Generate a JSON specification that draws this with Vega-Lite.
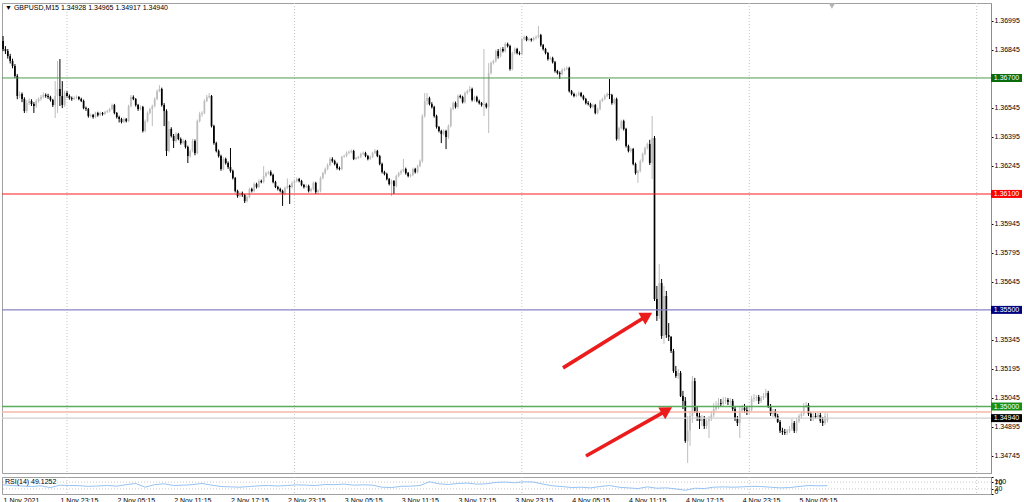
{
"$schema":"https://vega.github.io/schema/vega-lite/v6.json",
"padding":{"left":0,"top":2,"right":0,"bottom":0},
"background":"#ffffff",
"spacing":2,
"config":{"view":{"stroke":"#a0a0a0","strokeWidth":1},"font":"Liberation Sans","axis":{"labelFont":"Liberation Sans","labelFontSize":7,"labelColor":"#000000","domainColor":"#8c8c8c","tickColor":"#000000","grid":false},"text":{"font":"Liberation Sans"}},
"datasets":{
"grid":[{"i":27},{"i":123},{"i":219},{"i":315},{"i":411}],
"levels":[{"price":1.367,"kind":"a1367","label":"1.36700"},{"price":1.361,"kind":"b1361","label":"1.36100"},{"price":1.355,"kind":"c1355","label":"1.35500"},{"price":1.35,"kind":"d1350","label":"1.35000"},{"price":1.3494,"kind":"e_bid","label":"1.34940"},{"price":1.34972,"kind":"f_ask","label":""}],
"arrows":[{"x1":236.37,"p1":1.352,"x2":271.83,"p2":1.3547},{"x1":246.08,"p1":1.34744,"x2":280.23,"p2":1.3498}],
"rsi":[{"i":0,"v":54},{"i":4,"v":50},{"i":8,"v":47},{"i":12,"v":44},{"i":16,"v":48},{"i":20,"v":38},{"i":24,"v":52},{"i":28,"v":50},{"i":32,"v":49},{"i":36,"v":45},{"i":40,"v":47},{"i":44,"v":50},{"i":48,"v":46},{"i":52,"v":55},{"i":56,"v":62},{"i":60,"v":40},{"i":64,"v":55},{"i":68,"v":60},{"i":72,"v":50},{"i":76,"v":52},{"i":80,"v":55},{"i":84,"v":62},{"i":88,"v":52},{"i":92,"v":44},{"i":96,"v":42},{"i":100,"v":40},{"i":104,"v":44},{"i":108,"v":48},{"i":112,"v":50},{"i":116,"v":47},{"i":120,"v":50},{"i":124,"v":54},{"i":128,"v":52},{"i":132,"v":50},{"i":136,"v":56},{"i":140,"v":55},{"i":144,"v":58},{"i":148,"v":52},{"i":152,"v":54},{"i":156,"v":52},{"i":160,"v":40},{"i":164,"v":38},{"i":168,"v":45},{"i":172,"v":46},{"i":176,"v":50},{"i":180,"v":72},{"i":184,"v":60},{"i":188,"v":56},{"i":192,"v":62},{"i":196,"v":64},{"i":200,"v":58},{"i":204,"v":60},{"i":208,"v":68},{"i":212,"v":70},{"i":216,"v":66},{"i":220,"v":72},{"i":224,"v":70},{"i":228,"v":58},{"i":232,"v":48},{"i":236,"v":44},{"i":240,"v":38},{"i":244,"v":40},{"i":248,"v":36},{"i":252,"v":44},{"i":256,"v":50},{"i":260,"v":40},{"i":264,"v":36},{"i":268,"v":32},{"i":272,"v":42},{"i":276,"v":34},{"i":280,"v":36},{"i":284,"v":30},{"i":288,"v":22},{"i":292,"v":34},{"i":296,"v":32},{"i":300,"v":40},{"i":304,"v":42},{"i":308,"v":40},{"i":312,"v":42},{"i":316,"v":45},{"i":320,"v":44},{"i":324,"v":40},{"i":328,"v":36},{"i":332,"v":38},{"i":336,"v":44},{"i":340,"v":50},{"i":344,"v":48},{"i":348,"v":49}],
"bars":[
{"i":0,"o":1.36891,"h":1.36917,"l":1.36839,"c":1.3685},
{"i":1,"o":1.3685,"h":1.36865,"l":1.36824,"c":1.36839},
{"i":2,"o":1.36839,"h":1.3685,"l":1.368,"c":1.36813},
{"i":3,"o":1.36813,"h":1.36825,"l":1.36775,"c":1.36788},
{"i":4,"o":1.36788,"h":1.368,"l":1.3675,"c":1.36762},
{"i":5,"o":1.36762,"h":1.36772,"l":1.367,"c":1.3671},
{"i":6,"o":1.3671,"h":1.3672,"l":1.3659,"c":1.36607},
{"i":7,"o":1.36607,"h":1.3663,"l":1.36595,"c":1.36617},
{"i":8,"o":1.36617,"h":1.36625,"l":1.36575,"c":1.36591},
{"i":9,"o":1.36591,"h":1.366,"l":1.36519,"c":1.36529},
{"i":10,"o":1.36529,"h":1.36585,"l":1.3652,"c":1.3657},
{"i":11,"o":1.3657,"h":1.36595,"l":1.3656,"c":1.36581},
{"i":12,"o":1.36581,"h":1.3659,"l":1.36555,"c":1.36565},
{"i":13,"o":1.36565,"h":1.36575,"l":1.36519,"c":1.36555},
{"i":14,"o":1.36555,"h":1.36592,"l":1.36545,"c":1.36581},
{"i":15,"o":1.36581,"h":1.366,"l":1.36572,"c":1.36591},
{"i":16,"o":1.36591,"h":1.36612,"l":1.36582,"c":1.36601},
{"i":17,"o":1.36601,"h":1.36625,"l":1.36595,"c":1.36612},
{"i":18,"o":1.36612,"h":1.3662,"l":1.36598,"c":1.36607},
{"i":19,"o":1.36607,"h":1.36618,"l":1.36592,"c":1.36601},
{"i":20,"o":1.36601,"h":1.36608,"l":1.36578,"c":1.36586},
{"i":21,"o":1.36586,"h":1.36592,"l":1.3655,"c":1.3656},
{"i":22,"o":1.3656,"h":1.36684,"l":1.36493,"c":1.36607},
{"i":23,"o":1.36607,"h":1.36788,"l":1.36519,"c":1.36643},
{"i":24,"o":1.36643,"h":1.36798,"l":1.36555,"c":1.36607},
{"i":25,"o":1.36607,"h":1.36684,"l":1.36544,"c":1.3656},
{"i":26,"o":1.3656,"h":1.36635,"l":1.3655,"c":1.36622},
{"i":27,"o":1.36622,"h":1.36632,"l":1.36598,"c":1.36607},
{"i":28,"o":1.36607,"h":1.36615,"l":1.36588,"c":1.36596},
{"i":29,"o":1.36596,"h":1.36604,"l":1.36582,"c":1.36591},
{"i":30,"o":1.36591,"h":1.36605,"l":1.36585,"c":1.36596},
{"i":31,"o":1.36596,"h":1.3661,"l":1.3659,"c":1.36601},
{"i":32,"o":1.36601,"h":1.36606,"l":1.36585,"c":1.36591},
{"i":33,"o":1.36591,"h":1.36598,"l":1.36575,"c":1.36581},
{"i":34,"o":1.36581,"h":1.36588,"l":1.36538,"c":1.36544},
{"i":35,"o":1.36544,"h":1.36552,"l":1.3653,"c":1.36539},
{"i":36,"o":1.36539,"h":1.36545,"l":1.36495,"c":1.36503},
{"i":37,"o":1.36503,"h":1.36515,"l":1.36496,"c":1.36508},
{"i":38,"o":1.36508,"h":1.36514,"l":1.3649,"c":1.36498},
{"i":39,"o":1.36498,"h":1.36525,"l":1.36492,"c":1.36519},
{"i":40,"o":1.36519,"h":1.36525,"l":1.365,"c":1.36508},
{"i":41,"o":1.36508,"h":1.36526,"l":1.36502,"c":1.36519},
{"i":42,"o":1.36519,"h":1.36524,"l":1.36505,"c":1.36513},
{"i":43,"o":1.36513,"h":1.3653,"l":1.36508,"c":1.36524},
{"i":44,"o":1.36524,"h":1.36535,"l":1.36518,"c":1.36529},
{"i":45,"o":1.36529,"h":1.36545,"l":1.36522,"c":1.36539},
{"i":46,"o":1.36539,"h":1.36568,"l":1.36534,"c":1.3656},
{"i":47,"o":1.3656,"h":1.36566,"l":1.36512,"c":1.36519},
{"i":48,"o":1.36519,"h":1.36524,"l":1.3649,"c":1.36498},
{"i":49,"o":1.36498,"h":1.36505,"l":1.3647,"c":1.36488},
{"i":50,"o":1.36488,"h":1.36494,"l":1.36465,"c":1.36472},
{"i":51,"o":1.36472,"h":1.36495,"l":1.36468,"c":1.36488},
{"i":52,"o":1.36488,"h":1.36493,"l":1.3647,"c":1.36477},
{"i":53,"o":1.36477,"h":1.36562,"l":1.36472,"c":1.36555},
{"i":54,"o":1.36555,"h":1.36612,"l":1.36548,"c":1.36601},
{"i":55,"o":1.36601,"h":1.3661,"l":1.36585,"c":1.36591},
{"i":56,"o":1.36591,"h":1.36596,"l":1.36552,"c":1.3656},
{"i":57,"o":1.3656,"h":1.36566,"l":1.3653,"c":1.36539},
{"i":58,"o":1.36539,"h":1.36558,"l":1.36532,"c":1.3655},
{"i":59,"o":1.3655,"h":1.36556,"l":1.36418,"c":1.36426},
{"i":60,"o":1.36426,"h":1.36485,"l":1.3642,"c":1.36477},
{"i":61,"o":1.36477,"h":1.36527,"l":1.3647,"c":1.36519},
{"i":62,"o":1.36519,"h":1.36546,"l":1.36512,"c":1.36539},
{"i":63,"o":1.36539,"h":1.36562,"l":1.36451,"c":1.36555},
{"i":64,"o":1.36555,"h":1.366,"l":1.36548,"c":1.36591},
{"i":65,"o":1.36591,"h":1.3664,"l":1.36585,"c":1.36632},
{"i":66,"o":1.36632,"h":1.36663,"l":1.36626,"c":1.36643},
{"i":67,"o":1.36643,"h":1.3665,"l":1.36552,"c":1.3656},
{"i":68,"o":1.3656,"h":1.3657,"l":1.36451,"c":1.36529},
{"i":69,"o":1.36529,"h":1.36538,"l":1.36296,"c":1.36322},
{"i":70,"o":1.36322,"h":1.36477,"l":1.36315,"c":1.36436},
{"i":71,"o":1.36436,"h":1.36445,"l":1.36392,"c":1.364},
{"i":72,"o":1.364,"h":1.3641,"l":1.36338,"c":1.36374},
{"i":73,"o":1.36374,"h":1.3642,"l":1.36366,"c":1.3641},
{"i":74,"o":1.3641,"h":1.36416,"l":1.36378,"c":1.36384},
{"i":75,"o":1.36384,"h":1.36392,"l":1.36355,"c":1.36363},
{"i":76,"o":1.36363,"h":1.36385,"l":1.36356,"c":1.36374},
{"i":77,"o":1.36374,"h":1.3638,"l":1.36335,"c":1.36343},
{"i":78,"o":1.36343,"h":1.3635,"l":1.3626,"c":1.36296},
{"i":79,"o":1.36296,"h":1.3633,"l":1.36288,"c":1.36322},
{"i":80,"o":1.36322,"h":1.36385,"l":1.36315,"c":1.36374},
{"i":81,"o":1.36374,"h":1.36382,"l":1.363,"c":1.36312},
{"i":82,"o":1.36312,"h":1.36485,"l":1.36305,"c":1.36477},
{"i":83,"o":1.36477,"h":1.36525,"l":1.3647,"c":1.36513},
{"i":84,"o":1.36513,"h":1.36528,"l":1.365,"c":1.36519},
{"i":85,"o":1.36519,"h":1.3659,"l":1.36512,"c":1.36581},
{"i":86,"o":1.36581,"h":1.36612,"l":1.36575,"c":1.36601},
{"i":87,"o":1.36601,"h":1.36622,"l":1.36594,"c":1.36607},
{"i":88,"o":1.36607,"h":1.36612,"l":1.36444,"c":1.36451},
{"i":89,"o":1.36451,"h":1.36458,"l":1.36355,"c":1.36363},
{"i":90,"o":1.36363,"h":1.3637,"l":1.36315,"c":1.36322},
{"i":91,"o":1.36322,"h":1.3633,"l":1.36288,"c":1.36296},
{"i":92,"o":1.36296,"h":1.36303,"l":1.3622,"c":1.36229},
{"i":93,"o":1.36229,"h":1.3629,"l":1.36222,"c":1.36281},
{"i":94,"o":1.36281,"h":1.36288,"l":1.36252,"c":1.3626},
{"i":95,"o":1.3626,"h":1.36268,"l":1.3623,"c":1.36239},
{"i":96,"o":1.36239,"h":1.36338,"l":1.3621,"c":1.36219},
{"i":97,"o":1.36219,"h":1.36226,"l":1.36175,"c":1.36182},
{"i":98,"o":1.36182,"h":1.36188,"l":1.36108,"c":1.36115},
{"i":99,"o":1.36115,"h":1.36122,"l":1.3608,"c":1.36089},
{"i":100,"o":1.36089,"h":1.36112,"l":1.36082,"c":1.36105},
{"i":101,"o":1.36105,"h":1.36112,"l":1.36085,"c":1.36094},
{"i":102,"o":1.36094,"h":1.361,"l":1.36053,"c":1.36063},
{"i":103,"o":1.36063,"h":1.36092,"l":1.36056,"c":1.36084},
{"i":104,"o":1.36084,"h":1.36133,"l":1.36077,"c":1.36125},
{"i":105,"o":1.36125,"h":1.36132,"l":1.36108,"c":1.36115},
{"i":106,"o":1.36115,"h":1.3616,"l":1.36108,"c":1.36151},
{"i":107,"o":1.36151,"h":1.36158,"l":1.36128,"c":1.36136},
{"i":108,"o":1.36136,"h":1.36175,"l":1.3613,"c":1.36167},
{"i":109,"o":1.36167,"h":1.36174,"l":1.36155,"c":1.36162},
{"i":110,"o":1.36162,"h":1.36244,"l":1.36155,"c":1.36193},
{"i":111,"o":1.36193,"h":1.36215,"l":1.36185,"c":1.36208},
{"i":112,"o":1.36208,"h":1.3622,"l":1.362,"c":1.36213},
{"i":113,"o":1.36213,"h":1.36222,"l":1.36192,"c":1.36198},
{"i":114,"o":1.36198,"h":1.36205,"l":1.36155,"c":1.36162},
{"i":115,"o":1.36162,"h":1.36168,"l":1.3613,"c":1.36136},
{"i":116,"o":1.36136,"h":1.36142,"l":1.36118,"c":1.36125},
{"i":117,"o":1.36125,"h":1.36132,"l":1.36108,"c":1.36115},
{"i":118,"o":1.36115,"h":1.36122,"l":1.36038,"c":1.361},
{"i":119,"o":1.361,"h":1.36138,"l":1.36092,"c":1.36131},
{"i":120,"o":1.36131,"h":1.3618,"l":1.36124,"c":1.36141},
{"i":121,"o":1.36141,"h":1.36148,"l":1.36048,"c":1.36136},
{"i":122,"o":1.36136,"h":1.36165,"l":1.36128,"c":1.36157},
{"i":123,"o":1.36157,"h":1.36175,"l":1.3611,"c":1.36167},
{"i":124,"o":1.36167,"h":1.36185,"l":1.3616,"c":1.36177},
{"i":125,"o":1.36177,"h":1.36183,"l":1.3616,"c":1.36167},
{"i":126,"o":1.36167,"h":1.36173,"l":1.3614,"c":1.36146},
{"i":127,"o":1.36146,"h":1.36152,"l":1.36128,"c":1.36136},
{"i":128,"o":1.36136,"h":1.3615,"l":1.3613,"c":1.36141},
{"i":129,"o":1.36141,"h":1.36148,"l":1.36108,"c":1.36115},
{"i":130,"o":1.36115,"h":1.36132,"l":1.36108,"c":1.36125},
{"i":131,"o":1.36125,"h":1.36165,"l":1.36118,"c":1.36157},
{"i":132,"o":1.36157,"h":1.36163,"l":1.361,"c":1.3611},
{"i":133,"o":1.3611,"h":1.36125,"l":1.361,"c":1.36115},
{"i":134,"o":1.36115,"h":1.3619,"l":1.36108,"c":1.36182},
{"i":135,"o":1.36182,"h":1.36215,"l":1.36175,"c":1.36208},
{"i":136,"o":1.36208,"h":1.36236,"l":1.362,"c":1.36229},
{"i":137,"o":1.36229,"h":1.36258,"l":1.36222,"c":1.3625},
{"i":138,"o":1.3625,"h":1.3629,"l":1.36243,"c":1.36281},
{"i":139,"o":1.36281,"h":1.3629,"l":1.36262,"c":1.3627},
{"i":140,"o":1.3627,"h":1.36277,"l":1.36248,"c":1.36255},
{"i":141,"o":1.36255,"h":1.36262,"l":1.36226,"c":1.36234},
{"i":142,"o":1.36234,"h":1.36242,"l":1.36222,"c":1.36229},
{"i":143,"o":1.36229,"h":1.36298,"l":1.36222,"c":1.36291},
{"i":144,"o":1.36291,"h":1.36304,"l":1.36288,"c":1.36296},
{"i":145,"o":1.36296,"h":1.3632,"l":1.3629,"c":1.36312},
{"i":146,"o":1.36312,"h":1.36325,"l":1.36305,"c":1.36317},
{"i":147,"o":1.36317,"h":1.3633,"l":1.3631,"c":1.36322},
{"i":148,"o":1.36322,"h":1.36328,"l":1.36275,"c":1.36281},
{"i":149,"o":1.36281,"h":1.36293,"l":1.36276,"c":1.36286},
{"i":150,"o":1.36286,"h":1.36297,"l":1.3628,"c":1.36291},
{"i":151,"o":1.36291,"h":1.36314,"l":1.36285,"c":1.36307},
{"i":152,"o":1.36307,"h":1.3632,"l":1.363,"c":1.36312},
{"i":153,"o":1.36312,"h":1.36318,"l":1.3629,"c":1.36296},
{"i":154,"o":1.36296,"h":1.36302,"l":1.36274,"c":1.36281},
{"i":155,"o":1.36281,"h":1.36298,"l":1.36276,"c":1.36291},
{"i":156,"o":1.36291,"h":1.36318,"l":1.36286,"c":1.36312},
{"i":157,"o":1.36312,"h":1.36332,"l":1.36306,"c":1.36322},
{"i":158,"o":1.36322,"h":1.36328,"l":1.3629,"c":1.36296},
{"i":159,"o":1.36296,"h":1.36302,"l":1.36248,"c":1.36255},
{"i":160,"o":1.36255,"h":1.36262,"l":1.36206,"c":1.36213},
{"i":161,"o":1.36213,"h":1.3622,"l":1.36196,"c":1.36203},
{"i":162,"o":1.36203,"h":1.3621,"l":1.3617,"c":1.36177},
{"i":163,"o":1.36177,"h":1.36183,"l":1.36144,"c":1.36151},
{"i":164,"o":1.36151,"h":1.36175,"l":1.36089,"c":1.36167},
{"i":165,"o":1.36167,"h":1.36172,"l":1.361,"c":1.36141},
{"i":166,"o":1.36141,"h":1.362,"l":1.36135,"c":1.36193},
{"i":167,"o":1.36193,"h":1.36215,"l":1.36186,"c":1.36208},
{"i":168,"o":1.36208,"h":1.36226,"l":1.36198,"c":1.36219},
{"i":169,"o":1.36219,"h":1.36281,"l":1.36212,"c":1.36229},
{"i":170,"o":1.36229,"h":1.36236,"l":1.362,"c":1.36208},
{"i":171,"o":1.36208,"h":1.36214,"l":1.36186,"c":1.36193},
{"i":172,"o":1.36193,"h":1.36205,"l":1.36185,"c":1.36198},
{"i":173,"o":1.36198,"h":1.36236,"l":1.36192,"c":1.36229},
{"i":174,"o":1.36229,"h":1.36235,"l":1.36206,"c":1.36213},
{"i":175,"o":1.36213,"h":1.36252,"l":1.36206,"c":1.36244},
{"i":176,"o":1.36244,"h":1.36278,"l":1.36238,"c":1.3627},
{"i":177,"o":1.3627,"h":1.36512,"l":1.36262,"c":1.36503},
{"i":178,"o":1.36503,"h":1.36622,"l":1.36495,"c":1.36581},
{"i":179,"o":1.36581,"h":1.36622,"l":1.3656,"c":1.36596},
{"i":180,"o":1.36596,"h":1.36603,"l":1.36558,"c":1.36565},
{"i":181,"o":1.36565,"h":1.36575,"l":1.36542,"c":1.3655},
{"i":182,"o":1.3655,"h":1.36556,"l":1.36495,"c":1.36503},
{"i":183,"o":1.36503,"h":1.3651,"l":1.36438,"c":1.36446},
{"i":184,"o":1.36446,"h":1.36452,"l":1.36418,"c":1.36426},
{"i":185,"o":1.36426,"h":1.36432,"l":1.36363,"c":1.3641},
{"i":186,"o":1.3641,"h":1.36434,"l":1.36402,"c":1.36426},
{"i":187,"o":1.36426,"h":1.36432,"l":1.36332,"c":1.36394},
{"i":188,"o":1.36394,"h":1.3646,"l":1.36385,"c":1.36451},
{"i":189,"o":1.36451,"h":1.36548,"l":1.36444,"c":1.36539},
{"i":190,"o":1.36539,"h":1.36578,"l":1.36532,"c":1.3657},
{"i":191,"o":1.3657,"h":1.36578,"l":1.36542,"c":1.3655},
{"i":192,"o":1.3655,"h":1.36615,"l":1.36542,"c":1.36607},
{"i":193,"o":1.36607,"h":1.36614,"l":1.36594,"c":1.36601},
{"i":194,"o":1.36601,"h":1.36608,"l":1.36568,"c":1.36575},
{"i":195,"o":1.36575,"h":1.3663,"l":1.36568,"c":1.36622},
{"i":196,"o":1.36622,"h":1.3664,"l":1.36615,"c":1.36632},
{"i":197,"o":1.36632,"h":1.36658,"l":1.36626,"c":1.36643},
{"i":198,"o":1.36643,"h":1.3665,"l":1.36578,"c":1.36586},
{"i":199,"o":1.36586,"h":1.36608,"l":1.36579,"c":1.36601},
{"i":200,"o":1.36601,"h":1.36608,"l":1.36574,"c":1.36581},
{"i":201,"o":1.36581,"h":1.36588,"l":1.36563,"c":1.3657},
{"i":202,"o":1.3657,"h":1.36576,"l":1.36552,"c":1.3656},
{"i":203,"o":1.3656,"h":1.3685,"l":1.36503,"c":1.36565},
{"i":204,"o":1.36565,"h":1.36572,"l":1.36542,"c":1.3655},
{"i":205,"o":1.3655,"h":1.36777,"l":1.36415,"c":1.36726},
{"i":206,"o":1.36726,"h":1.36785,"l":1.36718,"c":1.36777},
{"i":207,"o":1.36777,"h":1.36795,"l":1.3677,"c":1.36788},
{"i":208,"o":1.36788,"h":1.36846,"l":1.3678,"c":1.36839},
{"i":209,"o":1.36839,"h":1.3685,"l":1.368,"c":1.36813},
{"i":210,"o":1.36813,"h":1.36858,"l":1.36806,"c":1.3685},
{"i":211,"o":1.3685,"h":1.3686,"l":1.36832,"c":1.36839},
{"i":212,"o":1.36839,"h":1.36884,"l":1.36832,"c":1.36876},
{"i":213,"o":1.36876,"h":1.36883,"l":1.36858,"c":1.36865},
{"i":214,"o":1.36865,"h":1.36872,"l":1.36738,"c":1.36746},
{"i":215,"o":1.36746,"h":1.36836,"l":1.3674,"c":1.36829},
{"i":216,"o":1.36829,"h":1.36858,"l":1.36822,"c":1.3685},
{"i":217,"o":1.3685,"h":1.36856,"l":1.36822,"c":1.36829},
{"i":218,"o":1.36829,"h":1.36838,"l":1.36818,"c":1.36824},
{"i":219,"o":1.36824,"h":1.36908,"l":1.36818,"c":1.36901},
{"i":220,"o":1.36901,"h":1.3692,"l":1.36894,"c":1.36912},
{"i":221,"o":1.36912,"h":1.36918,"l":1.3689,"c":1.36896},
{"i":222,"o":1.36896,"h":1.36908,"l":1.3689,"c":1.36901},
{"i":223,"o":1.36901,"h":1.36906,"l":1.36888,"c":1.36896},
{"i":224,"o":1.36896,"h":1.36914,"l":1.3689,"c":1.36907},
{"i":225,"o":1.36907,"h":1.3692,"l":1.369,"c":1.36912},
{"i":226,"o":1.36912,"h":1.36969,"l":1.36905,"c":1.36922},
{"i":227,"o":1.36922,"h":1.36928,"l":1.36862,"c":1.3687},
{"i":228,"o":1.3687,"h":1.36876,"l":1.36842,"c":1.3685},
{"i":229,"o":1.3685,"h":1.36856,"l":1.36822,"c":1.36829},
{"i":230,"o":1.36829,"h":1.36835,"l":1.3679,"c":1.36798},
{"i":231,"o":1.36798,"h":1.36812,"l":1.36792,"c":1.36803},
{"i":232,"o":1.36803,"h":1.3681,"l":1.36775,"c":1.36782},
{"i":233,"o":1.36782,"h":1.36788,"l":1.36728,"c":1.36736},
{"i":234,"o":1.36736,"h":1.36742,"l":1.36718,"c":1.36726},
{"i":235,"o":1.36726,"h":1.36734,"l":1.36695,"c":1.3672},
{"i":236,"o":1.3672,"h":1.3675,"l":1.36714,"c":1.36741},
{"i":237,"o":1.36741,"h":1.36754,"l":1.36735,"c":1.36746},
{"i":238,"o":1.36746,"h":1.3676,"l":1.3674,"c":1.36751},
{"i":239,"o":1.36751,"h":1.36758,"l":1.36625,"c":1.36632},
{"i":240,"o":1.36632,"h":1.36638,"l":1.3661,"c":1.36617},
{"i":241,"o":1.36617,"h":1.36624,"l":1.366,"c":1.36607},
{"i":242,"o":1.36607,"h":1.3662,"l":1.366,"c":1.36612},
{"i":243,"o":1.36612,"h":1.3663,"l":1.36606,"c":1.36622},
{"i":244,"o":1.36622,"h":1.36628,"l":1.366,"c":1.36607},
{"i":245,"o":1.36607,"h":1.36613,"l":1.36584,"c":1.36591},
{"i":246,"o":1.36591,"h":1.36597,"l":1.36563,"c":1.3657},
{"i":247,"o":1.3657,"h":1.3658,"l":1.36558,"c":1.36565},
{"i":248,"o":1.36565,"h":1.36572,"l":1.36543,"c":1.3655},
{"i":249,"o":1.3655,"h":1.36568,"l":1.36543,"c":1.3656},
{"i":250,"o":1.3656,"h":1.36566,"l":1.36512,"c":1.36519},
{"i":251,"o":1.36519,"h":1.36546,"l":1.36512,"c":1.36539},
{"i":252,"o":1.36539,"h":1.36588,"l":1.36532,"c":1.36581},
{"i":253,"o":1.36581,"h":1.36598,"l":1.36575,"c":1.36591},
{"i":254,"o":1.36591,"h":1.36615,"l":1.36585,"c":1.36607},
{"i":255,"o":1.36607,"h":1.36625,"l":1.366,"c":1.36617},
{"i":256,"o":1.36617,"h":1.36695,"l":1.36591,"c":1.36612},
{"i":257,"o":1.36612,"h":1.36618,"l":1.36562,"c":1.3657},
{"i":258,"o":1.3657,"h":1.36598,"l":1.36563,"c":1.36591},
{"i":259,"o":1.36591,"h":1.36598,"l":1.36376,"c":1.36384},
{"i":260,"o":1.36384,"h":1.36448,"l":1.36376,"c":1.36441},
{"i":261,"o":1.36441,"h":1.36484,"l":1.36434,"c":1.36477},
{"i":262,"o":1.36477,"h":1.36484,"l":1.36428,"c":1.36436},
{"i":263,"o":1.36436,"h":1.36442,"l":1.3634,"c":1.36348},
{"i":264,"o":1.36348,"h":1.36355,"l":1.36315,"c":1.36322},
{"i":265,"o":1.36322,"h":1.3634,"l":1.36314,"c":1.36332},
{"i":266,"o":1.36332,"h":1.36338,"l":1.36248,"c":1.36255},
{"i":267,"o":1.36255,"h":1.36262,"l":1.362,"c":1.36208},
{"i":268,"o":1.36208,"h":1.36226,"l":1.36157,"c":1.36219},
{"i":269,"o":1.36219,"h":1.36278,"l":1.36212,"c":1.3627},
{"i":270,"o":1.3627,"h":1.36314,"l":1.36262,"c":1.36307},
{"i":271,"o":1.36307,"h":1.36345,"l":1.363,"c":1.36338},
{"i":272,"o":1.36338,"h":1.36365,"l":1.3633,"c":1.36358},
{"i":273,"o":1.36358,"h":1.3638,"l":1.3625,"c":1.3626},
{"i":274,"o":1.3626,"h":1.36503,"l":1.36177,"c":1.36389},
{"i":275,"o":1.36389,"h":1.364,"l":1.35546,"c":1.35556},
{"i":276,"o":1.35556,"h":1.35624,"l":1.35443,"c":1.35469},
{"i":277,"o":1.35469,"h":1.35737,"l":1.35453,"c":1.35639},
{"i":278,"o":1.35639,"h":1.3566,"l":1.3535,"c":1.35365},
{"i":279,"o":1.35365,"h":1.35624,"l":1.35324,"c":1.35572},
{"i":280,"o":1.35572,"h":1.35598,"l":1.35355,"c":1.3537},
{"i":281,"o":1.3537,"h":1.35432,"l":1.35339,"c":1.3536},
{"i":282,"o":1.3536,"h":1.35365,"l":1.35277,"c":1.35287},
{"i":283,"o":1.35287,"h":1.35298,"l":1.35174,"c":1.35184},
{"i":284,"o":1.35184,"h":1.3521,"l":1.35148,"c":1.35158},
{"i":285,"o":1.35158,"h":1.35194,"l":1.35143,"c":1.35174},
{"i":286,"o":1.35174,"h":1.35184,"l":1.35049,"c":1.35055},
{"i":287,"o":1.35055,"h":1.35081,"l":1.34987,"c":1.35029},
{"i":288,"o":1.35029,"h":1.35049,"l":1.34812,"c":1.34822},
{"i":289,"o":1.34822,"h":1.34951,"l":1.34708,"c":1.34874},
{"i":290,"o":1.34874,"h":1.34977,"l":1.34796,"c":1.34951},
{"i":291,"o":1.34951,"h":1.35158,"l":1.34915,"c":1.35132},
{"i":292,"o":1.35132,"h":1.35148,"l":1.34967,"c":1.34977},
{"i":293,"o":1.34977,"h":1.35003,"l":1.34925,"c":1.34951},
{"i":294,"o":1.34951,"h":1.34967,"l":1.34884,"c":1.34925},
{"i":295,"o":1.34925,"h":1.34956,"l":1.34899,"c":1.34936},
{"i":296,"o":1.34936,"h":1.34951,"l":1.34884,"c":1.34899},
{"i":297,"o":1.34899,"h":1.34936,"l":1.34884,"c":1.34925},
{"i":298,"o":1.34925,"h":1.34951,"l":1.34837,"c":1.34936},
{"i":299,"o":1.34936,"h":1.34977,"l":1.34925,"c":1.34956},
{"i":300,"o":1.34956,"h":1.35018,"l":1.34946,"c":1.34987},
{"i":301,"o":1.34987,"h":1.35029,"l":1.34977,"c":1.35003},
{"i":302,"o":1.35003,"h":1.35044,"l":1.34987,"c":1.35018},
{"i":303,"o":1.35018,"h":1.35039,"l":1.34998,"c":1.35013},
{"i":304,"o":1.35013,"h":1.35049,"l":1.35003,"c":1.35029},
{"i":305,"o":1.35029,"h":1.35049,"l":1.35013,"c":1.35034},
{"i":306,"o":1.35034,"h":1.35044,"l":1.35008,"c":1.35024},
{"i":307,"o":1.35024,"h":1.35044,"l":1.35008,"c":1.35029},
{"i":308,"o":1.35029,"h":1.35039,"l":1.34977,"c":1.34987},
{"i":309,"o":1.34987,"h":1.35003,"l":1.34925,"c":1.34936},
{"i":310,"o":1.34936,"h":1.34951,"l":1.34899,"c":1.34915},
{"i":311,"o":1.34915,"h":1.35003,"l":1.34837,"c":1.34977},
{"i":312,"o":1.34977,"h":1.35008,"l":1.34967,"c":1.34993},
{"i":313,"o":1.34993,"h":1.35013,"l":1.34967,"c":1.34982},
{"i":314,"o":1.34982,"h":1.35003,"l":1.34956,"c":1.34972},
{"i":315,"o":1.34972,"h":1.35003,"l":1.34962,"c":1.34982},
{"i":316,"o":1.34982,"h":1.35055,"l":1.34972,"c":1.35039},
{"i":317,"o":1.35039,"h":1.35065,"l":1.35024,"c":1.35044},
{"i":318,"o":1.35044,"h":1.3506,"l":1.35029,"c":1.35049},
{"i":319,"o":1.35049,"h":1.3506,"l":1.35013,"c":1.35029},
{"i":320,"o":1.35029,"h":1.35055,"l":1.35018,"c":1.35044},
{"i":321,"o":1.35044,"h":1.3507,"l":1.35034,"c":1.35055},
{"i":322,"o":1.35055,"h":1.35091,"l":1.35044,"c":1.3507},
{"i":323,"o":1.3507,"h":1.35081,"l":1.34993,"c":1.35003},
{"i":324,"o":1.35003,"h":1.35013,"l":1.34951,"c":1.34962},
{"i":325,"o":1.34962,"h":1.34987,"l":1.34946,"c":1.34977},
{"i":326,"o":1.34977,"h":1.34987,"l":1.34941,"c":1.34951},
{"i":327,"o":1.34951,"h":1.34962,"l":1.34915,"c":1.3492},
{"i":328,"o":1.3492,"h":1.3493,"l":1.34863,"c":1.34874},
{"i":329,"o":1.34874,"h":1.3489,"l":1.34853,"c":1.34868},
{"i":330,"o":1.34868,"h":1.34884,"l":1.34853,"c":1.34863},
{"i":331,"o":1.34863,"h":1.34884,"l":1.34853,"c":1.34874},
{"i":332,"o":1.34874,"h":1.34899,"l":1.34863,"c":1.34884},
{"i":333,"o":1.34884,"h":1.34936,"l":1.34874,"c":1.34915},
{"i":334,"o":1.34915,"h":1.34925,"l":1.34863,"c":1.34874},
{"i":335,"o":1.34874,"h":1.34941,"l":1.34863,"c":1.34925},
{"i":336,"o":1.34925,"h":1.34962,"l":1.34915,"c":1.34951},
{"i":337,"o":1.34951,"h":1.34977,"l":1.34936,"c":1.34962},
{"i":338,"o":1.34962,"h":1.35018,"l":1.34951,"c":1.35003},
{"i":339,"o":1.35003,"h":1.35024,"l":1.34993,"c":1.35008},
{"i":340,"o":1.35008,"h":1.35018,"l":1.34951,"c":1.34962},
{"i":341,"o":1.34962,"h":1.34972,"l":1.34925,"c":1.34936},
{"i":342,"o":1.34936,"h":1.34967,"l":1.34925,"c":1.34951},
{"i":343,"o":1.34951,"h":1.34967,"l":1.34936,"c":1.34946},
{"i":344,"o":1.34946,"h":1.34972,"l":1.34936,"c":1.34956},
{"i":345,"o":1.34956,"h":1.34967,"l":1.34915,"c":1.34925},
{"i":346,"o":1.34925,"h":1.34946,"l":1.34899,"c":1.34915},
{"i":347,"o":1.34915,"h":1.34967,"l":1.34905,"c":1.34951},
{"i":348,"o":1.34928,"h":1.34965,"l":1.34917,"c":1.3494}
]},
"vconcat":[
{"width":989,"height":470,
"resolve":{"axis":{"y":"independent"}},
"layer":[
{"data":{"name":"bars"},"mark":{"type":"rule","strokeWidth":1},
 "encoding":{"x":{"field":"i","type":"quantitative","scale":{"domain":[-0.45,417.05],"nice":false,"zero":false},"axis":null},
  "y":{"field":"l","type":"quantitative","scale":{"domain":[1.34656,1.37088],"nice":false,"zero":false},
   "axis":{"orient":"right","values":[1.36995,1.36845,1.36545,1.36395,1.36245,1.35945,1.35795,1.35645,1.35345,1.35195,1.35045,1.34895,1.34745],"format":".5f","tickSize":2,"labelPadding":1,"labelOverlap":false,"title":null}},
  "y2":{"field":"h"},
  "color":{"condition":{"test":"datum.c >= datum.o","value":"#bdbdbd"},"value":"#000000"}}},
{"data":{"name":"grid"},"mark":{"type":"rule","color":"#c4c4c4","strokeDash":[1,2],"strokeWidth":1},
 "encoding":{"x":{"field":"i","type":"quantitative","axis":null}}},
{"data":{"name":"bars"},"mark":{"type":"rule","strokeWidth":1.7},
 "encoding":{"x":{"field":"i","type":"quantitative","axis":null},
  "y":{"field":"o","type":"quantitative","axis":null},"y2":{"field":"c"},
  "color":{"condition":{"test":"datum.c >= datum.o","value":"#bdbdbd"},"value":"#000000"}}},
{"data":{"name":"levels"},"mark":{"type":"rule"},
 "encoding":{"y":{"field":"price","type":"quantitative","axis":null},
  "stroke":{"field":"kind","type":"nominal","legend":null,"scale":{"domain":["a1367","b1361","c1355","d1350","e_bid","f_ask"],"range":["#4f9a4f","#ff1a1a","#8585c8","#5aad5a","#cfcfcf","#f5b9aa"]}},
  "strokeWidth":{"field":"kind","type":"nominal","legend":null,"scale":{"domain":["a1367","b1361","c1355","d1350","e_bid","f_ask"],"range":[1,1.6,1,1,1,1]}}}},
{"data":{"name":"levels"},"transform":[{"filter":"datum.kind != 'f_ask'"}],
 "mark":{"type":"tick","orient":"horizontal","thickness":8,"size":31,"opacity":1},
 "encoding":{"x":{"datum":423.6,"type":"quantitative","axis":null},"y":{"field":"price","type":"quantitative","axis":null},
  "fill":{"field":"kind","type":"nominal","legend":null,"scale":{"domain":["a1367","b1361","c1355","d1350","e_bid"],"range":["#0b6b0b","#ff0000","#000080","#168f16","#000000"]}}}},
{"data":{"name":"levels"},"transform":[{"filter":"datum.kind != 'f_ask'"}],
 "mark":{"type":"text","color":"#ffffff","fontSize":7,"align":"center","baseline":"middle"},
 "encoding":{"x":{"datum":423.6,"type":"quantitative","axis":null},"y":{"field":"price","type":"quantitative","axis":null},"text":{"field":"label"}}},
{"data":{"name":"arrows"},"mark":{"type":"rule","color":"#ec1c1c","strokeWidth":3.6},
 "encoding":{"x":{"field":"x1","type":"quantitative","axis":null},"x2":{"field":"x2"},"y":{"field":"p1","type":"quantitative","axis":null},"y2":{"field":"p2"}}},
{"data":{"name":"arrows"},"mark":{"type":"point","shape":"triangle-up","filled":true,"color":"#ec1c1c","size":190,"angle":59.5,"opacity":1},
 "encoding":{"x":{"field":"x2","type":"quantitative","axis":null},"y":{"field":"p2","type":"quantitative","axis":null}}},
{"data":{"values":[{"t":"▼ GBPUSD,M15  1.34928 1.34965 1.34917 1.34940"}]},
 "mark":{"type":"text","align":"left","baseline":"middle","fontSize":7,"color":"#000000"},
 "encoding":{"x":{"datum":0.82,"type":"quantitative","axis":null},"y":{"datum":1.3706,"type":"quantitative","axis":null},"text":{"field":"t"}}},
{"data":{"values":[{"m":1}]},
 "mark":{"type":"point","shape":"triangle-down","filled":true,"color":"#b4b4b4","size":40,"opacity":1},
 "encoding":{"x":{"datum":349.9,"type":"quantitative","axis":null},"y":{"datum":1.37072,"type":"quantitative","axis":null}}}
]},
{"width":989,"height":17,
"resolve":{"axis":{"y":"independent"}},
"layer":[
{"data":{"name":"grid"},"mark":{"type":"rule","color":"#c4c4c4","strokeDash":[1,2],"strokeWidth":1},
 "encoding":{"x":{"field":"i","type":"quantitative","scale":{"domain":[-0.45,417.05],"nice":false,"zero":false},
  "axis":{"values":[0,27,51,75,99,123,147,171,195,219,243,267,291,315,339],
   "labelExpr":"['1 Nov 2021','1 Nov 23:15','2 Nov 05:15','2 Nov 11:15','2 Nov 17:15','2 Nov 23:15','3 Nov 05:15','3 Nov 11:15','3 Nov 17:15','3 Nov 23:15','4 Nov 05:15','4 Nov 11:15','4 Nov 17:15','4 Nov 23:15','5 Nov 05:15'][indexof([0,27,51,75,99,123,147,171,195,219,243,267,291,315,339], datum.value)]",
   "labelAlign":"left","labelOffset":{"condition":{"test":"datum.value == 0","value":0},"value":-7},
   "ticks":false,"domain":false,"labelPadding":2,"labelOverlap":false,"labelBound":false,"title":null}}}},
{"data":{"values":[{"v":30},{"v":70}]},"mark":{"type":"rule","color":"#c8c8c8","strokeDash":[1,2]},
 "encoding":{"y":{"field":"v","type":"quantitative","scale":{"domain":[0,100],"nice":false,"zero":false},
  "axis":{"orient":"right","values":[0,30,70,100],"labelFlush":true,"labelOverlap":false,"tickSize":2,"labelPadding":1,"title":null}}}},
{"data":{"name":"rsi"},"mark":{"type":"line","color":"#96c2f2","strokeWidth":1},
 "encoding":{"x":{"field":"i","type":"quantitative","axis":{"title":null}},"y":{"field":"v","type":"quantitative","axis":null}}},
{"data":{"values":[{"t":"RSI(14) 49.1252"}]},
 "mark":{"type":"text","align":"left","baseline":"middle","fontSize":7,"color":"#000000"},
 "encoding":{"x":{"datum":0.82,"type":"quantitative","axis":{"title":null}},"y":{"datum":72,"type":"quantitative","axis":null},"text":{"field":"t"}}}
]}
]
}
